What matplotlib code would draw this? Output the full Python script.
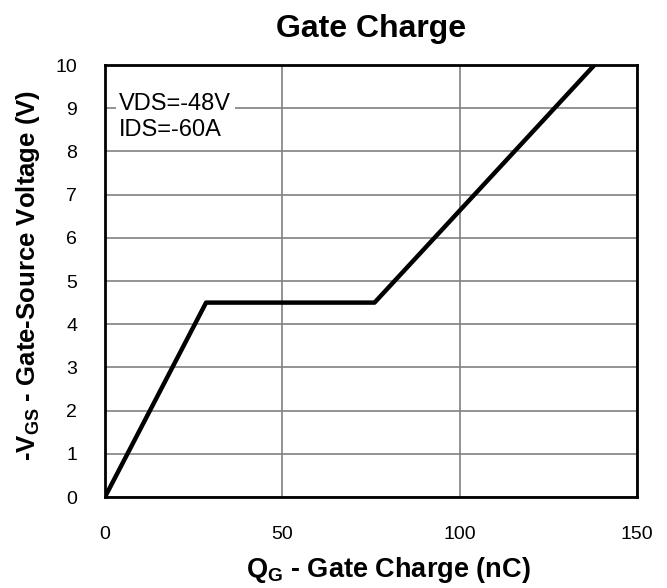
import matplotlib
matplotlib.use("Agg")
import matplotlib.pyplot as plt

plt.rcParams['font.family'] = ['Liberation Sans', 'DejaVu Sans']
plt.rcParams['mathtext.fontset'] = 'custom'
plt.rcParams['mathtext.rm'] = 'Liberation Sans'
plt.rcParams['mathtext.bf'] = 'Liberation Sans:bold'

# gate charge curve (nC, V)
qg = [0, 28.5, 76, 138]
vgs = [0, 4.5, 4.5, 10]
xticks = [0, 50, 100, 150]
yticks = list(range(0, 11))

fig = plt.figure(figsize=(6.67, 5.88), dpi=100)
ax = fig.add_axes([105 / 667, 91 / 588, 532 / 667, 432 / 588])

ax.plot(qg, vgs, color='black', lw=3.2, solid_capstyle='butt', zorder=3)
ax.set_xlim(0, 150)
ax.set_ylim(0, 10)
ax.set_xticks(xticks)
ax.set_yticks(yticks)
ax.grid(True, color='#808080', lw=1.2)
ax.tick_params(length=0, labelsize=14)
ax.tick_params(axis='x', pad=21)
ax.tick_params(axis='y', pad=20)
for s in ax.spines.values():
    s.set_linewidth(2)

ax.text(4, 8.8, 'VDS=-48V\nIDS=-60A', fontsize=17, va='center', ha='left',
        linespacing=1.25,
        bbox=dict(facecolor='white', edgecolor='none', pad=2.5), zorder=4)

ax.set_title('Gate Charge', fontsize=23, fontweight='bold', pad=20)
ax.set_xlabel(r'Q$_\mathbf{G}$ - Gate Charge (nC)', fontsize=19.5, fontweight='bold', va='center')
ax.xaxis.set_label_coords(0.532, -0.168)
ax.set_ylabel(r'-V$_\mathbf{GS}$ - Gate-Source Voltage (V)', fontsize=18.5, fontweight='bold', va='center')
ax.yaxis.set_label_coords(-0.145, 0.512)

fig.savefig('out.png', dpi=100)
